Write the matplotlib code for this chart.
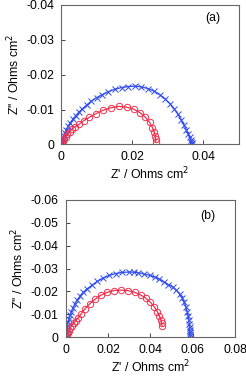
import matplotlib
matplotlib.use("Agg")
import matplotlib.pyplot as plt

plt.rcParams['font.family'] = ['Liberation Sans', 'DejaVu Sans']
plt.rcParams['axes.unicode_minus'] = False

# Panel (a)
a_blue_x = [0.0001, 0.0003, 0.0005, 0.0008, 0.0011, 0.0015, 0.0020, 0.0026, 0.0033, 0.0041,
            0.0050, 0.0060, 0.0072, 0.0085, 0.0100, 0.0116, 0.0133, 0.0151, 0.0170, 0.0189,
            0.0208, 0.0226, 0.0244, 0.0261, 0.0277, 0.0292, 0.0306, 0.0318, 0.0329, 0.0338,
            0.0346, 0.0352, 0.0357, 0.0361, 0.0364, 0.0366, 0.0367, 0.0368]
a_blue_y = [0.0001, 0.0008, 0.0015, 0.0024, 0.0033, 0.0042, 0.0052, 0.0062, 0.0072, 0.0082,
            0.0092, 0.0102, 0.0113, 0.0124, 0.0134, 0.0143, 0.0151, 0.0158, 0.0163, 0.0166,
            0.0167, 0.0165, 0.0160, 0.0153, 0.0143, 0.0131, 0.0117, 0.0102, 0.0086, 0.0070,
            0.0055, 0.0042, 0.0031, 0.0021, 0.0013, 0.0007, 0.0003, 0.0001]
a_red_x = [0.0001, 0.0003, 0.0006, 0.0009, 0.0013, 0.0018, 0.0024, 0.0031, 0.0040, 0.0051,
           0.0064, 0.0080, 0.0098, 0.0118, 0.0140, 0.0162, 0.0184, 0.0204, 0.0222, 0.0237,
           0.0249, 0.0257, 0.0262, 0.0265, 0.0266, 0.0266]
a_red_y = [0.0001, 0.0004, 0.0009, 0.0015, 0.0022, 0.0029, 0.0036, 0.0044, 0.0051, 0.0058,
           0.0068, 0.0078, 0.0088, 0.0098, 0.0105, 0.0109, 0.0107, 0.0101, 0.0091, 0.0078,
           0.0063, 0.0048, 0.0035, 0.0024, 0.0015, 0.0008]

# Panel (b)
b_blue_x = [0.0001, 0.0002, 0.0004, 0.0006, 0.0009, 0.0012, 0.0016, 0.0021, 0.0027, 0.0034,
            0.0043, 0.0054, 0.0067, 0.0083, 0.0102, 0.0124, 0.0149, 0.0176, 0.0205, 0.0235,
            0.0266, 0.0297, 0.0320, 0.0343, 0.0370, 0.0396, 0.0420, 0.0442, 0.0463, 0.0484,
            0.0504, 0.0522, 0.0537, 0.0549, 0.0559, 0.0567, 0.0573, 0.0578, 0.0581, 0.0583,
            0.0584, 0.0585, 0.0585, 0.0585, 0.0584]
b_blue_y = [0.0002, 0.0010, 0.0022, 0.0035, 0.0050, 0.0065, 0.0080, 0.0096, 0.0112, 0.0128,
            0.0145, 0.0162, 0.0179, 0.0196, 0.0212, 0.0227, 0.0244, 0.0258, 0.0270, 0.0278,
            0.0283, 0.0285, 0.0284, 0.0282, 0.0276, 0.0270, 0.0263, 0.0254, 0.0242, 0.0230,
            0.0220, 0.0205, 0.0190, 0.0172, 0.0152, 0.0132, 0.0112, 0.0092, 0.0074, 0.0058,
            0.0044, 0.0032, 0.0022, 0.0014, 0.0006]
b_red_x = [0.0001, 0.0003, 0.0006, 0.0010, 0.0015, 0.0021, 0.0028, 0.0037, 0.0047, 0.0059,
           0.0074, 0.0092, 0.0113, 0.0137, 0.0165, 0.0195, 0.0228, 0.0262, 0.0296, 0.0326,
           0.0353, 0.0378, 0.0400, 0.0418, 0.0432, 0.0442, 0.0449, 0.0453, 0.0455]
b_red_y = [0.0001, 0.0005, 0.0012, 0.0020, 0.0029, 0.0039, 0.0049, 0.0060, 0.0072, 0.0085,
           0.0103, 0.0125, 0.0145, 0.0165, 0.0183, 0.0196, 0.0204, 0.0206, 0.0203, 0.0196,
           0.0185, 0.0170, 0.0152, 0.0132, 0.0112, 0.0093, 0.0076, 0.0060, 0.0047]

a_xticks = [0, 0.02, 0.04]
a_xticklabels = ['0', '0.02', '0.04']
a_yticks = [0, -0.01, -0.02, -0.03, -0.04]
a_yticklabels = ['0', '-0.01', '-0.02', '-0.03', '-0.04']
b_xticks = [0, 0.02, 0.04, 0.06, 0.08]
b_xticklabels = ['0', '0.02', '0.04', '0.06', '0.08']
b_yticks = [0, -0.01, -0.02, -0.03, -0.04, -0.05, -0.06]
b_yticklabels = ['0', '-0.01', '-0.02', '-0.03', '-0.04', '-0.05', '-0.06']

BLUE = '#2f4bf0'
RED = '#f0304c'
FS = 8.8

fig = plt.figure(figsize=(2.46, 3.78), dpi=100)
ax1 = fig.add_axes([0.248, 0.618, 0.7235, 0.369])
ax2 = fig.add_axes([0.267, 0.108, 0.6895, 0.363])


def draw(ax, bx, by, rx, ry, xl, yl, xt, xtl, yt, ytl, tag, tagpos):
    ax.plot(bx, [-v for v in by], '-', color=BLUE, lw=0.9, marker='x', ms=4.2, mew=0.7)
    ax.plot(rx, [-v for v in ry], '-', color=RED, lw=0.9, marker='o', ms=4.6, mfc='none', mew=0.7)
    ax.set_xlim(*xl)
    ax.set_ylim(*yl)
    ax.set_xticks(xt)
    ax.set_xticklabels(xtl)
    ax.set_yticks(yt)
    ax.set_yticklabels(ytl)
    ax.tick_params(direction='in', length=3, width=0.7, labelsize=FS, color='#444444', pad=5)
    for s in ax.spines.values():
        s.set_color('#666666')
        s.set_linewidth(0.8)
    ax.set_xlabel("Z' / Ohms cm$^2$", fontsize=FS, labelpad=2)
    ax.set_ylabel("Z'' / Ohms cm$^2$", fontsize=FS, labelpad=3)
    ax.text(tagpos[0], tagpos[1], tag, transform=ax.transAxes, fontsize=FS, ha='center', va='center')


draw(ax1, a_blue_x, a_blue_y, a_red_x, a_red_y, (0, 0.05), (0, -0.04),
     a_xticks, a_xticklabels, a_yticks, a_yticklabels, '(a)', (0.855, 0.905))
draw(ax2, b_blue_x, b_blue_y, b_red_x, b_red_y, (0, 0.08), (0, -0.06),
     b_xticks, b_xticklabels, b_yticks, b_yticklabels, '(b)', (0.84, 0.885))

fig.savefig('out.png', dpi=100)
